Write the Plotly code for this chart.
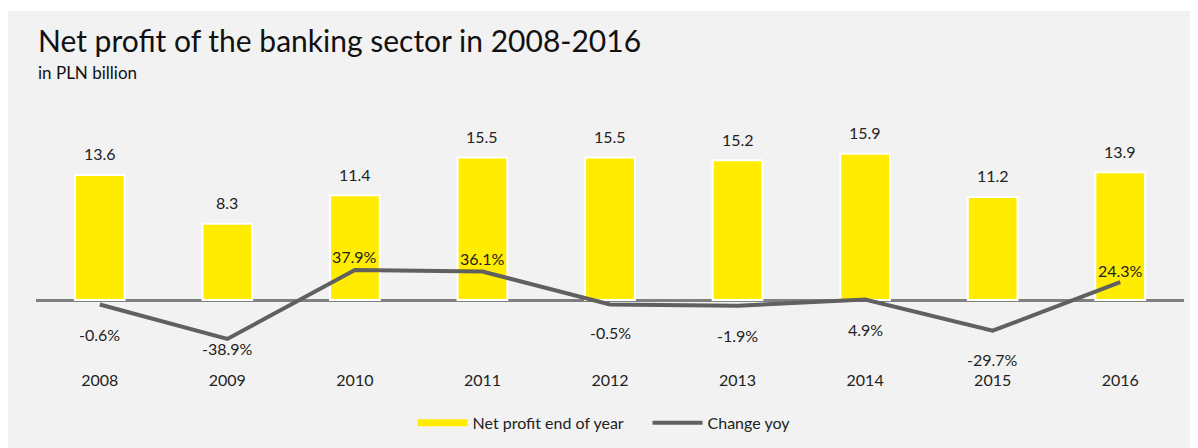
import plotly.graph_objects as go

years = ["2008", "2009", "2010", "2011", "2012", "2013", "2014", "2015", "2016"]
net_profit = [13.6, 8.3, 11.4, 15.5, 15.5, 15.2, 15.9, 11.2, 13.9]
change_yoy = [-0.6, -38.9, 37.9, 36.1, -0.5, -1.9, 4.9, -29.7, 24.3]

# vertical offset (px) of each % label relative to its point
pct_label_shift = [-30, -10, 13, 13, -28, -30, -30, -29, 12]

FONT = "Lato, 'Open Sans', sans-serif"
TEXT = "#222222"
YELLOW = "#ffec00"
LINE_GREY = "#606060"

fig = go.Figure()
fig.add_trace(go.Bar(
    x=years, y=net_profit, name="Net profit end of year",
    marker=dict(color=YELLOW, line=dict(color="white", width=2)),
    width=0.39, hoverinfo="x+y", showlegend=False,
))
fig.add_trace(go.Scatter(
    x=years, y=change_yoy, name="Change yoy", yaxis="y2", mode="lines",
    line=dict(color=LINE_GREY, width=4), showlegend=False,
))
# legend entries (wide swatches like the original)
fig.add_trace(go.Scatter(
    x=[None], y=[None], name="Net profit end of year", mode="lines",
    line=dict(color=YELLOW, width=7),
))
fig.add_trace(go.Scatter(
    x=[None], y=[None], name="Change yoy", mode="lines",
    line=dict(color=LINE_GREY, width=4),
))

# category axis: annotations need the category index, not the label
annotations = []
for i, v in enumerate(net_profit):
    annotations.append(dict(
        x=i, y=v, xref="x", yref="y", text=f"{v:.1f}", showarrow=False,
        yshift=21, font=dict(size=16, color=TEXT),
    ))
for i, (v, s) in enumerate(zip(change_yoy, pct_label_shift)):
    annotations.append(dict(
        x=i, y=v, xref="x", yref="y2", text=f"{v:.1f}%", showarrow=False,
        yshift=s, font=dict(size=16, color=TEXT),
    ))
annotations.append(dict(
    x=0, y=1.224, xref="paper", yref="paper", xanchor="left", yanchor="middle",
    text="Net profit of the banking sector in 2008-2016", showarrow=False,
    font=dict(size=30, color="#111111"),
))
annotations.append(dict(
    x=0, y=1.104, xref="paper", yref="paper", xanchor="left", yanchor="middle",
    text="in PLN billion", showarrow=False, font=dict(size=17, color="#111111"),
))

fig.update_layout(
    width=1198, height=448,
    margin=dict(l=28, r=22, t=92, b=88),
    paper_bgcolor="white",
    plot_bgcolor="rgba(0,0,0,0)",
    font=dict(family=FONT, color=TEXT, size=16),
    showlegend=True,
    legend=dict(
        orientation="h", x=0.328, xanchor="left", y=-0.205, yanchor="middle",
        font=dict(size=16, color=TEXT), bgcolor="rgba(0,0,0,0)",
        itemwidth=50, traceorder="normal",
        entrywidth=170, entrywidthmode="pixels",
    ),
    xaxis=dict(
        type="category", range=[-0.5, len(years) - 0.5], showgrid=False,
        showline=False, ticks="", tickfont=dict(size=16, color=TEXT),
        ticklabelstandoff=1,
    ),
    yaxis=dict(
        range=[-7.39, 21.74], showgrid=False, showticklabels=False,
        zeroline=True, zerolinecolor="#808080", zerolinewidth=3,
    ),
    yaxis2=dict(
        range=[-71.3, 227.2], overlaying="y", side="right", visible=False,
        showgrid=False, zeroline=False,
    ),
    annotations=annotations,
    shapes=[dict(
        type="rect", xref="paper", yref="paper", layer="below",
        x0=-0.03, x1=1.03, y0=-0.4, y1=1.332,
        fillcolor="#f2f2f2", line=dict(width=0),
    )],
)

fig.write_html("out.html")
